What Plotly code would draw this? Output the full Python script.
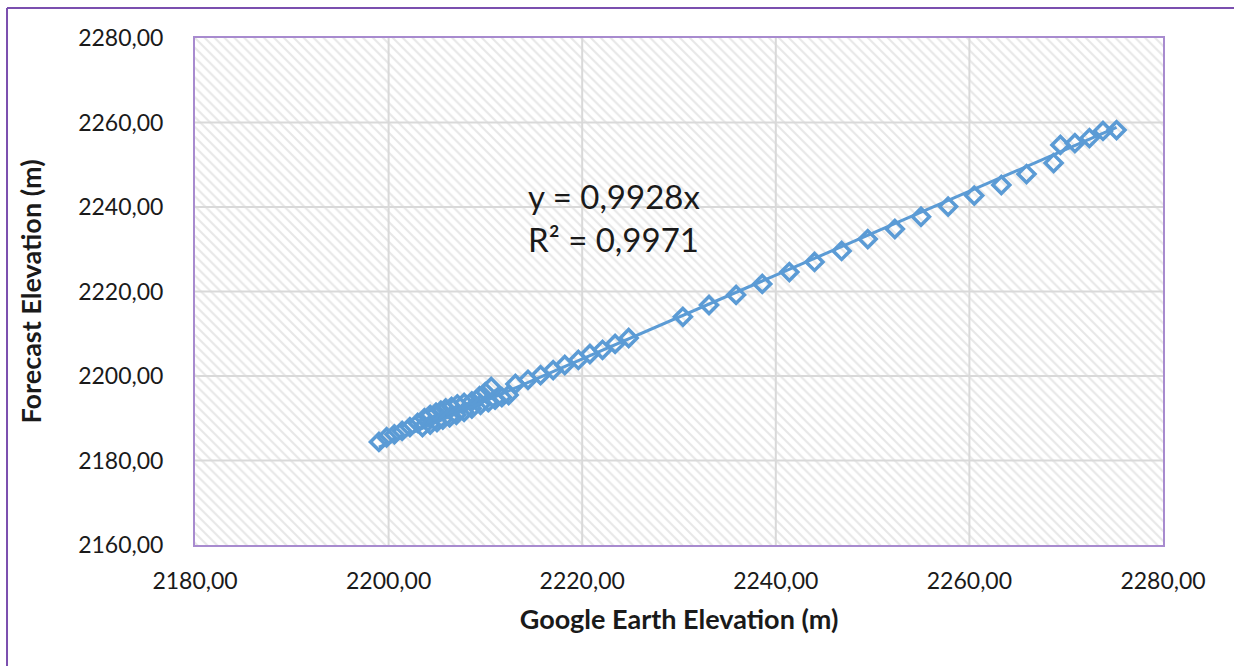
import plotly.graph_objects as go

# ---- data ----
google_elev = [
    2199.0, 2199.8, 2200.6, 2201.4, 2202.2, 2203.0, 2203.7, 2204.3, 2204.9, 2205.4,
    2205.9, 2206.5, 2207.1, 2207.8, 2208.6, 2209.4, 2210.0, 2210.6,
    2203.5, 2204.3, 2205.0, 2205.6, 2206.3, 2207.0, 2207.8, 2208.6, 2209.5, 2210.3,
    2211.0, 2211.7, 2212.4,
    2213.1, 2214.4, 2215.7, 2217.0, 2218.2, 2219.6, 2220.8, 2222.1, 2223.4, 2224.8,
    2230.4, 2233.1, 2235.9, 2238.6, 2241.4, 2244.0, 2246.8, 2249.5, 2252.3, 2255.0,
    2257.8, 2260.5, 2263.3, 2265.9, 2268.7, 2269.4, 2270.9, 2272.4, 2273.8, 2275.2,
]
forecast_elev = [
    2184.4, 2185.5, 2186.2, 2187.0, 2187.9, 2188.9, 2190.0, 2190.8, 2191.3, 2191.8,
    2192.3, 2192.7, 2193.3, 2193.6, 2194.0, 2195.2, 2196.2, 2197.4,
    2187.9, 2188.5, 2189.1, 2189.7, 2190.2, 2190.8, 2191.5, 2192.3, 2193.2, 2193.8,
    2194.4, 2195.0, 2195.5,
    2198.1, 2199.1, 2200.2, 2201.4, 2202.6, 2203.8, 2205.2, 2206.2, 2207.6, 2209.0,
    2214.0, 2216.8, 2219.2, 2221.8, 2224.6, 2227.0, 2229.6, 2232.4, 2234.8, 2237.7,
    2240.1, 2242.7, 2245.2, 2247.8, 2250.4, 2254.7, 2255.1, 2256.3, 2258.0, 2258.2,
]
trend_slope = 0.9928
trend_r2 = 0.9971

x_ticks = [2180, 2200, 2220, 2240, 2260, 2280]
y_ticks = [2160, 2180, 2200, 2220, 2240, 2260, 2280]
x_range = [x_ticks[0], x_ticks[-1]]
y_range = [y_ticks[0], y_ticks[-1]]


def fmt(v):
    return f"{v:.2f}".replace(".", ",")


BLUE = "#5B9BD5"
GRID = "#d9d9d9"
FONT = "Lato"
TXT = "#1a1a1a"

fig = go.Figure()

# hatched plot-area background
fig.add_trace(go.Scatter(
    x=[x_range[0], x_range[1], x_range[1], x_range[0], x_range[0]],
    y=[y_range[0], y_range[0], y_range[1], y_range[1], y_range[0]],
    mode="none", fill="toself", fillcolor="white",
    fillpattern=dict(shape="\\", fgcolor="#d0d0d0", bgcolor="white",
                     size=7, solidity=0.3),
    hoverinfo="skip", showlegend=False,
))

# gridlines drawn above the hatch
for xv in x_ticks[1:-1]:
    fig.add_trace(go.Scatter(x=[xv, xv], y=y_range, mode="lines",
                             line=dict(color=GRID, width=2),
                             hoverinfo="skip", showlegend=False))
for yv in y_ticks[1:-1]:
    fig.add_trace(go.Scatter(x=x_range, y=[yv, yv], mode="lines",
                             line=dict(color=GRID, width=2),
                             hoverinfo="skip", showlegend=False))

# data points
fig.add_trace(go.Scatter(
    x=google_elev, y=forecast_elev, mode="markers",
    marker=dict(symbol="diamond-open", size=13, color=BLUE,
                line=dict(width=3.5, color=BLUE)),
    showlegend=False,
))

# trendline y = slope * x
xmin, xmax = min(google_elev), max(google_elev)
fig.add_trace(go.Scatter(
    x=[xmin, xmax], y=[trend_slope * xmin, trend_slope * xmax],
    mode="lines", line=dict(color=BLUE, width=3),
    hoverinfo="skip", showlegend=False,
))

fig.add_annotation(
    x=2214.2, y=2237.6, xref="x", yref="y", showarrow=False,
    xanchor="left", yanchor="middle", align="left",
    text=f"y = {trend_slope:.4f}x".replace(".", ",") + "<br>" +
         f"R² = {trend_r2:.4f}".replace(".", ","),
    font=dict(family=FONT, size=33, color=TXT),
)

# outer chart border (left and top edges visible; right/bottom lie off-page)
fig.add_shape(type="line", xref="paper", yref="paper",
              x0=-0.1942, x1=-0.1942, y0=-0.27, y1=1.0592,
              line=dict(color="#7B4FAF", width=2), layer="above")
fig.add_shape(type="line", xref="paper", yref="paper",
              x0=-0.1942, x1=1.2, y0=1.0592, y1=1.0592,
              line=dict(color="#7B4FAF", width=2), layer="above")

axis_common = dict(
    showgrid=False, zeroline=False, showline=True, mirror=True,
    linecolor="#A88BCF", linewidth=2, ticks="",
    tickfont=dict(family=FONT, size=23, color=TXT),
)

fig.update_xaxes(
    range=x_range, tickvals=x_ticks, ticktext=[fmt(v) for v in x_ticks],
    ticklabelstandoff=14,
    title=dict(text="<b>Google Earth Elevation (m)</b>", standoff=18,
               font=dict(family=FONT, size=27, color=TXT)),
    **axis_common,
)
fig.update_yaxes(
    range=y_range, tickvals=y_ticks, ticktext=[fmt(v) for v in y_ticks],
    ticklabelstandoff=25,
    title=dict(text="<b>Forecast Elevation (m)</b>", standoff=29,
               font=dict(family=FONT, size=27, color=TXT)),
    **axis_common,
)

fig.update_layout(
    width=1234, height=666,
    margin=dict(l=195, r=71, t=38, b=121),
    paper_bgcolor="white", plot_bgcolor="white",
    font=dict(family=FONT),
)

fig.write_html("out.html", config={"displayModeBar": False},
               post_script="document.body.style.margin='0';document.body.style.overflow='hidden';")
